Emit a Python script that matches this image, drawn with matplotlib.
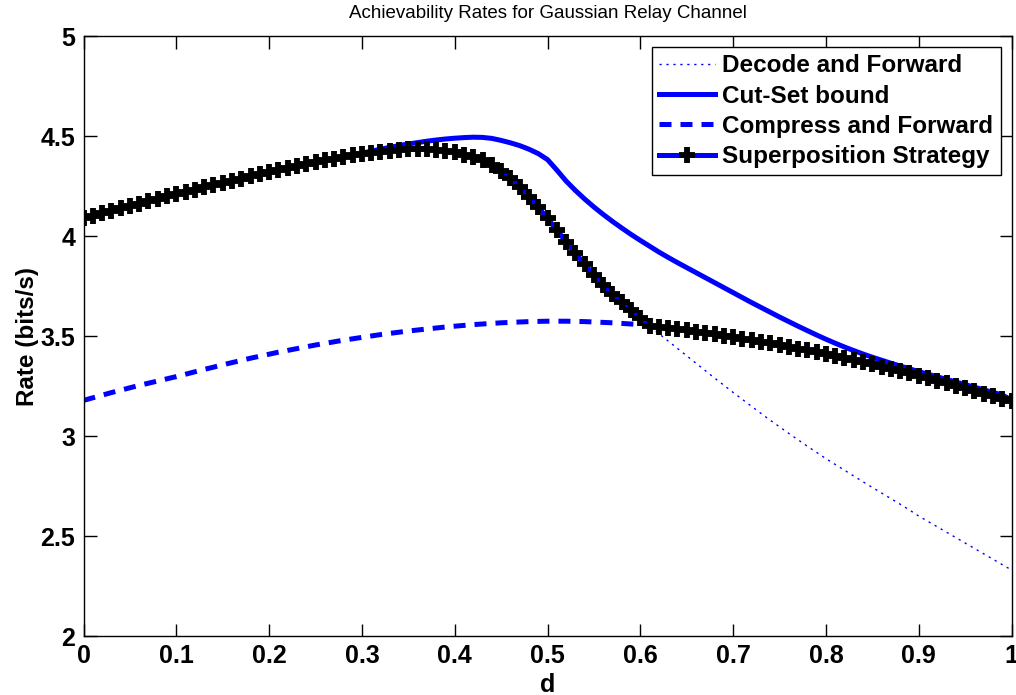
import numpy as np
import matplotlib
matplotlib.use('Agg')
import matplotlib.pyplot as plt

plt.rcParams['font.family'] = ['Liberation Sans', 'DejaVu Sans']

# relay position d, sampled every 0.01
d = np.round(np.arange(0, 101) * 0.01, 2)

# decode and forward rate
df_rate = [4.090, 4.102, 4.114, 4.126, 4.138, 4.150, 4.162, 4.174, 4.186, 4.198,
           4.210, 4.221, 4.232, 4.243, 4.254, 4.265, 4.276, 4.287, 4.298, 4.309,
           4.320, 4.330, 4.340, 4.350, 4.360, 4.369, 4.378, 4.387, 4.395, 4.403,
           4.410, 4.416, 4.422, 4.427, 4.431, 4.434, 4.435, 4.434, 4.431, 4.426,
           4.418, 4.407, 4.394, 4.378, 4.355, 4.325, 4.290, 4.245, 4.195, 4.143,
           4.088, 4.030, 3.972, 3.915, 3.858, 3.805, 3.755, 3.712, 3.670, 3.630,
           3.590, 3.550, 3.512, 3.475, 3.438, 3.401, 3.364, 3.327, 3.290, 3.254,
           3.218, 3.183, 3.148, 3.113, 3.079, 3.046, 3.013, 2.981, 2.949, 2.918,
           2.887, 2.858, 2.829, 2.800, 2.771, 2.743, 2.715, 2.687, 2.659, 2.630,
           2.600, 2.573, 2.546, 2.519, 2.492, 2.465, 2.438, 2.411, 2.384, 2.357,
           2.330]

# cut-set upper bound
cutset = [4.090, 4.102, 4.114, 4.126, 4.138, 4.150, 4.162, 4.174, 4.186, 4.198,
          4.210, 4.221, 4.232, 4.243, 4.254, 4.265, 4.276, 4.287, 4.298, 4.309,
          4.320, 4.330, 4.340, 4.350, 4.360, 4.369, 4.378, 4.387, 4.396, 4.405,
          4.414, 4.424, 4.434, 4.443, 4.452, 4.460, 4.467, 4.474, 4.480, 4.485,
          4.489, 4.492, 4.494, 4.493, 4.488, 4.478, 4.466, 4.452, 4.434, 4.412,
          4.382, 4.330, 4.275, 4.228, 4.185, 4.145, 4.108, 4.073, 4.040, 4.008,
          3.978, 3.949, 3.920, 3.893, 3.867, 3.842, 3.817, 3.792, 3.767, 3.742,
          3.717, 3.692, 3.667, 3.643, 3.619, 3.595, 3.572, 3.549, 3.527, 3.505,
          3.484, 3.464, 3.445, 3.427, 3.410, 3.394, 3.379, 3.364, 3.350, 3.336,
          3.322, 3.309, 3.296, 3.283, 3.270, 3.257, 3.244, 3.231, 3.218, 3.205,
          3.180]

# compress and forward rate
cf_rate = [3.178, 3.191, 3.204, 3.217, 3.229, 3.241, 3.253, 3.264, 3.275, 3.286,
           3.297, 3.309, 3.321, 3.333, 3.344, 3.356, 3.367, 3.378, 3.389, 3.399,
           3.409, 3.419, 3.428, 3.437, 3.446, 3.455, 3.463, 3.471, 3.479, 3.486,
           3.493, 3.500, 3.507, 3.513, 3.519, 3.525, 3.530, 3.535, 3.540, 3.545,
           3.549, 3.553, 3.557, 3.560, 3.563, 3.566, 3.568, 3.570, 3.572, 3.573,
           3.574, 3.574, 3.574, 3.573, 3.572, 3.570, 3.568, 3.566, 3.563, 3.560,
           3.557, 3.551, 3.546, 3.540, 3.534, 3.528, 3.522, 3.516, 3.509, 3.502,
           3.495, 3.487, 3.479, 3.471, 3.463, 3.455, 3.446, 3.437, 3.428, 3.419,
           3.410, 3.400, 3.390, 3.380, 3.369, 3.358, 3.347, 3.336, 3.325, 3.313,
           3.301, 3.289, 3.277, 3.264, 3.251, 3.238, 3.225, 3.212, 3.199, 3.186,
           3.173]

# superposition: best of the two schemes
superpos = np.maximum(df_rate, cf_rate)

xticks = [0, 0.1, 0.2, 0.3, 0.4, 0.5, 0.6, 0.7, 0.8, 0.9, 1]
xticklabels = ['0', '0.1', '0.2', '0.3', '0.4', '0.5', '0.6', '0.7', '0.8', '0.9', '1']
yticks = [2, 2.5, 3, 3.5, 4, 4.5, 5]
yticklabels = ['2', '2.5', '3', '3.5', '4', '4.5', '5']

fig = plt.figure(figsize=(10.16, 6.95), dpi=100)
ax = fig.add_axes([83.5/1016, 59/695, 928/1016, 600/695])

ax.plot(d, df_rate, color='blue', lw=1.0, linestyle=(0, (1.6, 3.4)), label='Decode and Forward')
ax.plot(d, cutset, color='blue', lw=3.6, label='Cut-Set bound')
ax.plot(d, cf_rate, color='blue', lw=3.6, linestyle=(0, (2.4, 1.8)), label='Compress and Forward')
ax.plot(d, superpos, color='blue', lw=3.6, marker='+', markersize=11, markeredgewidth=4.2,
        markeredgecolor='black', label='Superposition Strategy')

ax.set_xlim(0, 1)
ax.set_ylim(2, 5)
ax.set_xticks(xticks)
ax.set_xticklabels(xticklabels)
ax.set_yticks(yticks)
ax.set_yticklabels(yticklabels)
ax.tick_params(direction='in', length=9, width=1, top=True, right=True,
               labelsize=18, pad=6)
for lab in ax.get_xticklabels() + ax.get_yticklabels():
    lab.set_fontweight('bold')
for sp in ax.spines.values():
    sp.set_linewidth(1)

ax.set_title('Achievability Rates for Gaussian Relay Channel', fontsize=13.5, pad=13)
ax.set_xlabel('d', fontsize=18, fontweight='bold', labelpad=3)
ax.set_ylabel('Rate (bits/s)', fontsize=17.5, fontweight='bold', labelpad=1)

leg = ax.legend(loc='upper right', prop={'size': 17.5, 'weight': 'bold'}, numpoints=1,
                handlelength=2.3, handletextpad=0.3, labelspacing=0.3,
                borderaxespad=0.45, borderpad=0.3, fancybox=False, framealpha=1)
leg.get_frame().set_edgecolor('black')
leg.get_frame().set_linewidth(1)

fig.savefig('out.png', dpi=100, facecolor='white')
